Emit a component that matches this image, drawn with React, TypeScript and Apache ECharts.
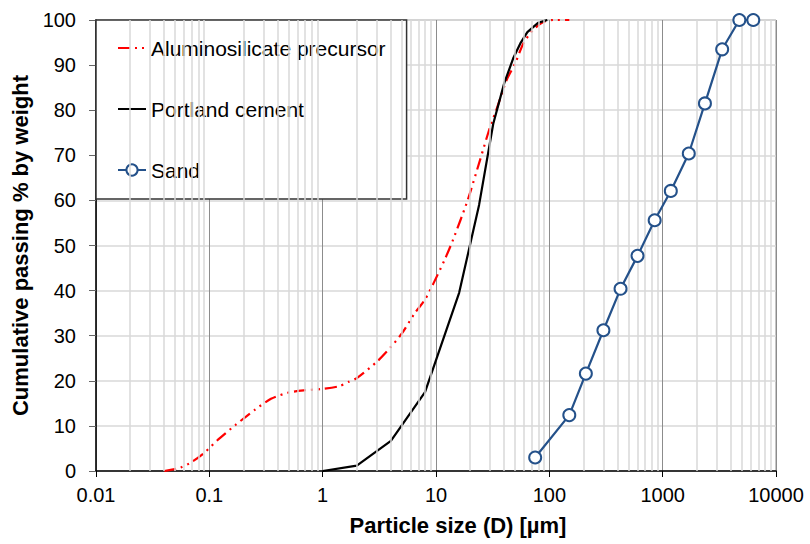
import React, { useEffect, useRef } from "react";
import * as echarts from "echarts";

const xTickLabels = ["0.01", "0.1", "1", "10", "100", "1000", "10000"];

const precursorSize = [0.04, 0.055, 0.07, 0.09, 0.12, 0.17, 0.25, 0.35, 0.5, 0.7, 1, 1.4, 1.7, 2, 3, 4, 5, 6.5, 8, 9.5, 12, 14, 19, 24.5, 30, 34, 42, 50, 59, 72, 89, 108, 150];
const precursorPassing = [0, 0.7, 2, 4, 7, 10.2, 13.5, 16, 17.4, 17.9, 18.2, 18.8, 19.8, 20.6, 24.2, 27.5, 30.5, 35, 38, 41.6, 47, 51, 60, 69, 76.3, 80, 86.7, 90.4, 94.8, 97.8, 99.6, 100, 100];

const cementSize = [1, 2, 4, 8, 16, 24, 32, 40, 48, 56, 64, 80, 96];
const cementPassing = [0, 1.2, 6.7, 17.5, 39.5, 59, 77, 86, 91.5, 95, 97.3, 99.4, 100];

const sandSize = [75, 150, 210, 300, 425, 600, 850, 1180, 1700, 2360, 3350, 4750, 6300];
const sandPassing = [3, 12.4, 21.6, 31.2, 40.4, 47.7, 55.6, 62.1, 70.4, 81.5, 93.5, 100, 100];

const FONT = "'Liberation Sans', Arial, sans-serif";

export default function App() {
  const ref = useRef<HTMLDivElement>(null);
  useEffect(() => {
    document.body.style.margin = "0";
    const chart = echarts.init(ref.current!, null, { renderer: "svg" });
    const minorLines: { xAxis: number }[] = [];
    for (let e = -2; e < 4; e++) {
      for (let m = 2; m <= 9; m++) {
        minorLines.push({ xAxis: +(m * Math.pow(10, e)).toPrecision(6) });
      }
    }
    const zip = (a: number[], b: number[]) => a.map((v, i) => [v, b[i]]);
    const hiddenSymbol = { color: "rgba(0,0,0,0)", borderWidth: 0, opacity: 0 };
    chart.setOption({
      animation: false,
      textStyle: { fontFamily: FONT },
      grid: {
        left: 96,
        top: 20,
        width: 680,
        height: 451,
        show: true,
        borderColor: "#8c8c8c",
        borderWidth: 1,
        backgroundColor: "transparent",
      },
      legend: {
        left: 96,
        top: 20,
        orient: "vertical",
        data: [
          { name: "Aluminosilicate precursor", itemStyle: hiddenSymbol },
          { name: "Portland cement", itemStyle: hiddenSymbol },
          { name: "Sand" },
        ],
        itemWidth: 28,
        itemHeight: 14,
        itemGap: 39,
        padding: [17, 21, 18, 21],
        borderColor: "#333",
        borderWidth: 1.5,
        backgroundColor: "#fff",
        textStyle: { fontSize: 21, color: "#000", fontFamily: FONT, lineHeight: 22 },
      },
      xAxis: {
        type: "log",
        logBase: 10,
        min: 0.01,
        max: 10000,
        name: "Particle size (D) [µm]",
        nameLocation: "middle",
        nameGap: 43,
        nameTextStyle: { fontSize: 22, fontWeight: "bold", color: "#000", fontFamily: FONT, padding: [0, 0, 0, 44] },
        axisLine: { lineStyle: { color: "#000", width: 1.5 } },
        axisTick: { show: true, inside: false, length: 6, lineStyle: { color: "#000" } },
        axisLabel: {
          fontSize: 20,
          color: "#000",
          margin: 14,
          formatter: (v: number) => {
            const s = String(+v.toPrecision(6));
            return xTickLabels.includes(s) ? s : "";
          },
        },
        splitLine: { show: true, lineStyle: { color: "#8c8c8c", width: 1 } },
      },
      yAxis: {
        type: "value",
        min: 0,
        max: 100,
        interval: 10,
        name: "Cumulative passing % by weight",
        nameLocation: "middle",
        nameGap: 62,
        nameTextStyle: { fontSize: 22, fontWeight: "bold", color: "#000", fontFamily: FONT },
        axisLine: { show: true, lineStyle: { color: "#000", width: 1.5 } },
        axisTick: { show: true, inside: false, length: 7, lineStyle: { color: "#666" } },
        axisLabel: { fontSize: 20, color: "#000", margin: 20 },
        splitLine: { show: true, lineStyle: { color: "#d9d9d9", width: 1.5 } },
      },
      series: [
        {
          type: "line",
          name: "_minor",
          data: [],
          z: 1,
          silent: true,
          markLine: {
            silent: true,
            symbol: "none",
            label: { show: false },
            lineStyle: { color: "#d9d9d9", width: 1.5, type: "solid" },
            data: minorLines,
            animation: false,
          },
        },
        {
          type: "line",
          name: "Aluminosilicate precursor",
          data: zip(precursorSize, precursorPassing),
          showSymbol: false,
          symbol: "none",
          smooth: 0.25,
          z: 3,
          lineStyle: { color: "#ff0000", width: 2.2, type: [12, 5, 2, 5, 2, 5] },
          itemStyle: { color: "#ff0000" },
        },
        {
          type: "line",
          name: "Portland cement",
          data: zip(cementSize, cementPassing),
          showSymbol: false,
          symbol: "none",
          z: 4,
          lineStyle: { color: "#000", width: 2.2 },
          itemStyle: { color: "#000" },
        },
        {
          type: "line",
          name: "Sand",
          data: zip(sandSize, sandPassing),
          symbol: "circle",
          symbolSize: 12,
          clip: false,
          z: 5,
          lineStyle: { color: "#24518a", width: 2.2 },
          itemStyle: { color: "#fff", borderColor: "#24518a", borderWidth: 2 },
        },
      ],
    });
    return () => chart.dispose();
  }, []);
  return <div ref={ref} style={{ width: 810, height: 544 }} />;
}
